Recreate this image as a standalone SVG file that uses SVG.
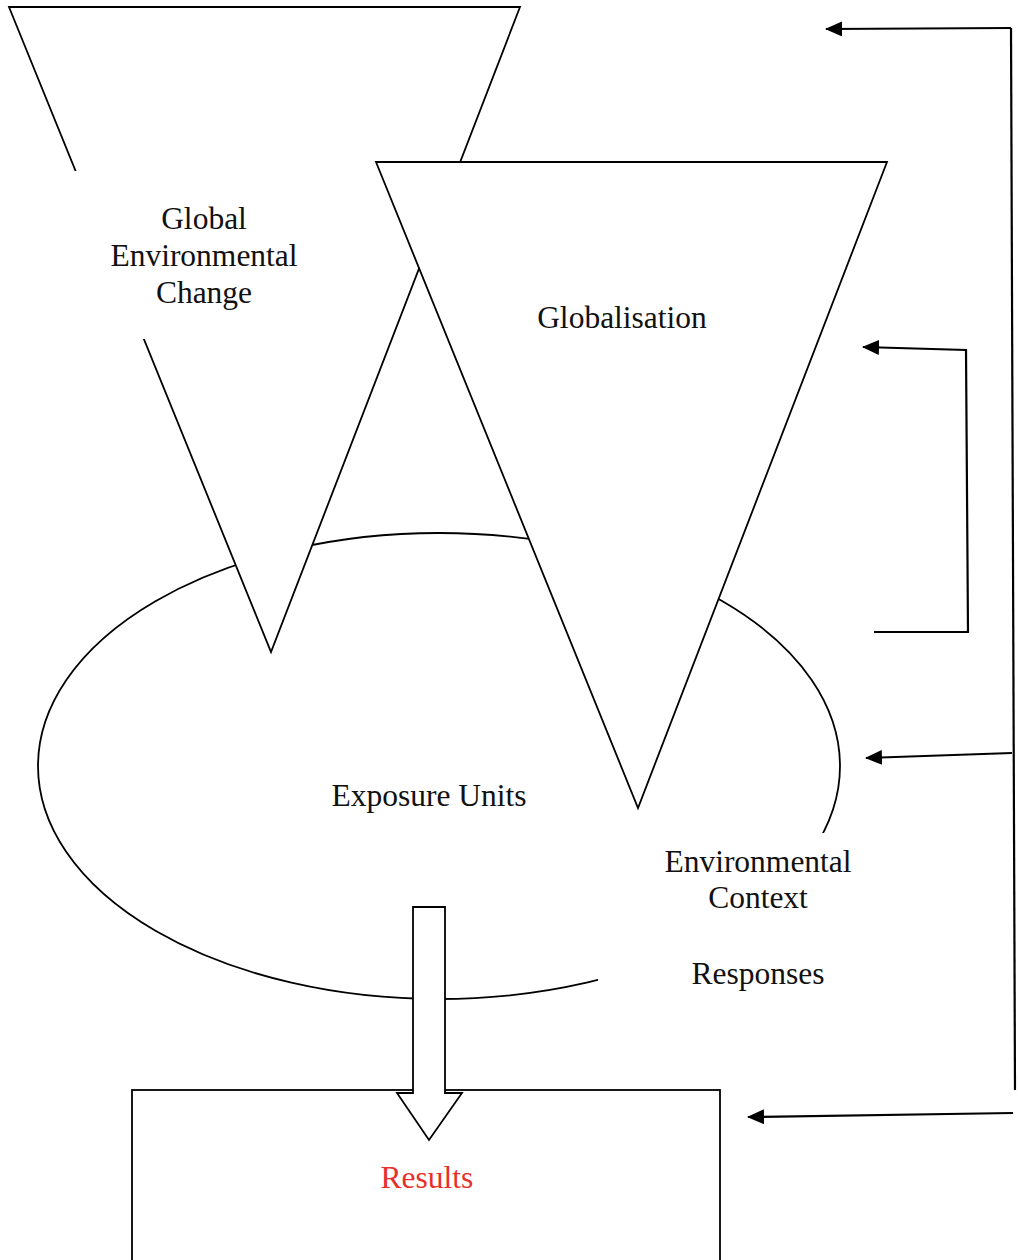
<svg xmlns="http://www.w3.org/2000/svg" width="1018" height="1260" viewBox="0 0 1018 1260">
<style>
.shape{fill:#fff;stroke:#000;stroke-width:1.8}
.mask{fill:#fff;stroke:none}
.lbl{font-family:"Liberation Serif","Times New Roman",serif;font-size:31.5px;fill:#111;text-anchor:middle}
.red{fill:#e8302a}
.conn{fill:none;stroke:#000;stroke-width:2.2}
</style>
<defs>
<marker id="arr" viewBox="0 0 17 15" refX="16" refY="7.5" markerWidth="17" markerHeight="15" markerUnits="userSpaceOnUse" orient="auto">
<path d="M0,0 L17,7.5 L0,15 Z" fill="#000"/>
</marker>
</defs>
<rect width="1018" height="1260" fill="#fff"/>
<g id="exposure-units">
<ellipse class="shape" cx="439" cy="766" rx="401" ry="233"/>
</g>
<g id="global-environmental-change">
<polygon class="shape" points="9,7 520,7 271,652"/>
<rect class="mask" x="60" y="171" width="280" height="168"/>
<text class="lbl" x="204" y="229">Global</text>
<text class="lbl" x="204" y="266">Environmental</text>
<text class="lbl" x="204" y="303">Change</text>
</g>
<g id="globalisation">
<polygon class="shape" points="376,162 887,162 638,808"/>
<text class="lbl" x="622" y="328">Globalisation</text>
</g>
<g id="environmental-context">
<rect class="mask" x="598" y="833" width="262" height="165"/>
<text class="lbl" x="758" y="872">Environmental</text>
<text class="lbl" x="758" y="908">Context</text>
<text class="lbl" x="758" y="984">Responses</text>
</g>
<text class="lbl" x="429" y="806">Exposure Units</text>
<g id="results">
<rect class="shape" x="132" y="1090" width="588" height="200"/>
<text class="lbl red" x="427" y="1188">Results</text>
</g>
<g id="connectors">
<polygon class="shape" points="413,907 445,907 445,1093 462,1093 429,1140 397,1093 413,1093"/>
<polyline class="conn" points="1011,28 826,29" marker-end="url(#arr)"/>
<line class="conn" x1="1011" y1="28" x2="1015" y2="1090"/>
<line class="conn" x1="1012" y1="753" x2="866" y2="758" marker-end="url(#arr)"/>
<line class="conn" x1="1013" y1="1113" x2="748" y2="1117" marker-end="url(#arr)"/>
<polyline class="conn" points="874,632 968,632 966,350 863,347" marker-end="url(#arr)"/>
</g>
</svg>
